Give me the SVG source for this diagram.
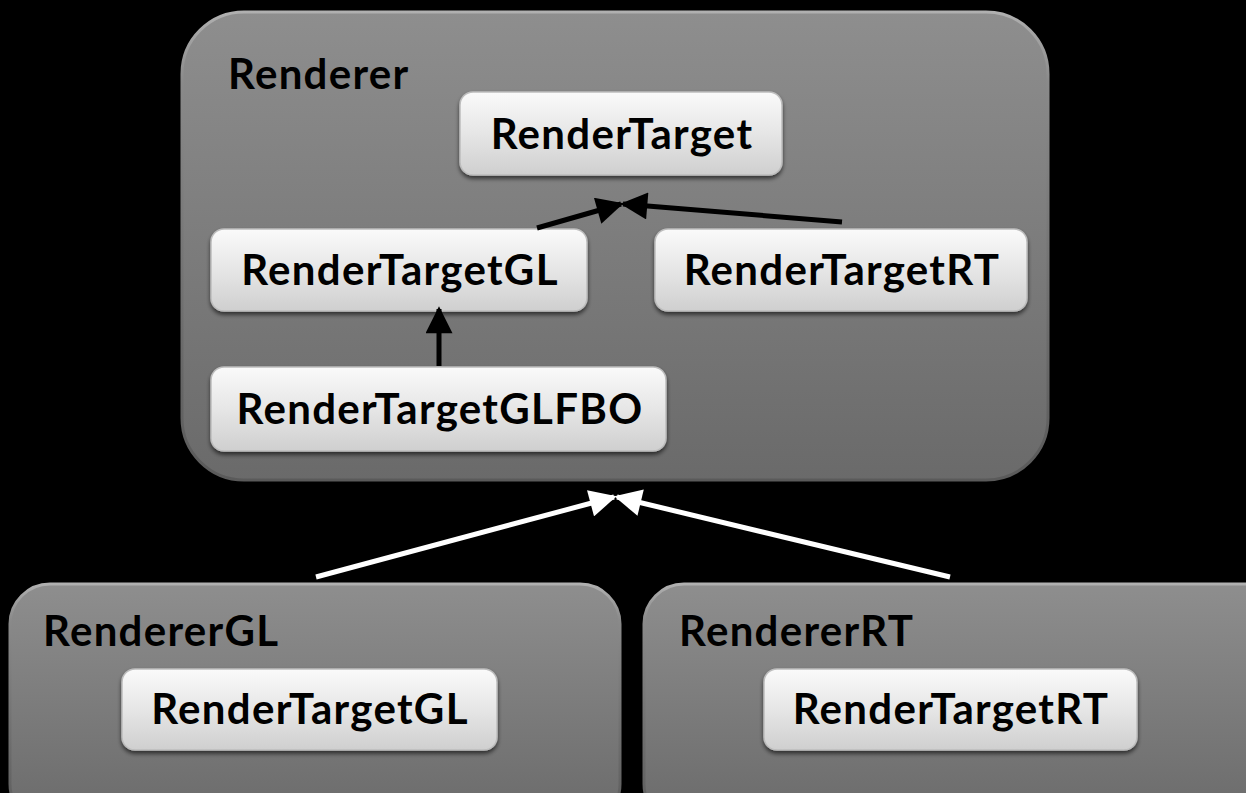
<svg xmlns="http://www.w3.org/2000/svg" width="1246" height="793" viewBox="0 0 1246 793">
<defs>
<linearGradient id="gc" x1="0" y1="0" x2="0" y2="1">
<stop offset="0" stop-color="#8e8e8e"/>
<stop offset="1" stop-color="#6a6a6a"/>
</linearGradient>
<linearGradient id="gcs" x1="0" y1="0" x2="0" y2="1">
<stop offset="0" stop-color="#b0b0b0"/>
<stop offset="0.15" stop-color="#8a8a8a"/>
<stop offset="1" stop-color="#5a5a5a"/>
</linearGradient>
<linearGradient id="gb" x1="0" y1="0" x2="0" y2="1">
<stop offset="0" stop-color="#fafafa"/>
<stop offset="0.5" stop-color="#e6e6e6"/>
<stop offset="1" stop-color="#cfcfcf"/>
</linearGradient>
<filter id="sh" x="-10%" y="-20%" width="120%" height="150%">
<feGaussianBlur in="SourceAlpha" stdDeviation="2"/>
<feOffset dx="0" dy="3" result="b"/>
<feComponentTransfer><feFuncA type="linear" slope="0.6"/></feComponentTransfer>
<feMerge><feMergeNode/><feMergeNode in="SourceGraphic"/></feMerge>
</filter>
<marker id="ab" viewBox="0 0 10 10" refX="9" refY="5" markerWidth="5.8" markerHeight="5.4" orient="auto" markerUnits="strokeWidth">
<path d="M0,0 L10,5 L0,10 z" fill="#000"/>
</marker>
<marker id="aw" viewBox="0 0 10 10" refX="9" refY="5" markerWidth="5.8" markerHeight="5.4" orient="auto" markerUnits="strokeWidth">
<path d="M0,0 L10,5 L0,10 z" fill="#fff"/>
</marker>
</defs>
<style>
.cont{fill:url(#gc);stroke:url(#gcs);stroke-width:3}
.box{fill:url(#gb);stroke:#bdbdbd;stroke-width:1.5;filter:url(#sh)}
.t{font-family:Lato,"Open Sans","DejaVu Sans",sans-serif;font-weight:bold;font-size:42px;letter-spacing:1.3px;fill:#000}
.c{text-anchor:middle}
.ln{stroke-width:5;fill:none}
</style>
<rect width="1246" height="793" fill="#000"/>
<g id="renderer">
<rect class="cont" x="182" y="12" width="866" height="468" rx="62" ry="62"/>
<text class="t" x="228" y="89">Renderer</text>
</g>
<g id="renderTarget">
<rect class="box" x="460" y="92" width="322" height="83" rx="13"/>
<text class="t c" x="622" y="149">RenderTarget</text>
</g>
<g id="renderTargetGL">
<rect class="box" x="211" y="229" width="376" height="82" rx="13"/>
<text class="t c" x="400" y="285">RenderTargetGL</text>
</g>
<g id="renderTargetRT">
<rect class="box" x="655" y="229" width="372" height="82" rx="13"/>
<text class="t c" x="842" y="285">RenderTargetRT</text>
</g>
<g id="renderTargetGLFBO">
<rect class="box" x="211" y="367" width="455" height="84" rx="13"/>
<text class="t c" x="440" y="424">RenderTargetGLFBO</text>
</g>
<g id="rendererGL">
<rect class="cont" x="10" y="584" width="610" height="240" rx="40" ry="40"/>
<text class="t" x="43" y="646">RendererGL</text>
<rect class="box" x="122" y="669" width="375" height="81" rx="13"/>
<text class="t c" x="310" y="724">RenderTargetGL</text>
</g>
<g id="rendererRT">
<rect class="cont" x="644" y="584" width="640" height="240" rx="40" ry="40"/>
<text class="t" x="679" y="646">RendererRT</text>
<rect class="box" x="764" y="669" width="373" height="81" rx="13"/>
<text class="t c" x="951" y="724">RenderTargetRT</text>
</g>
<g id="connectors">
<line class="ln" x1="537" y1="228" x2="621" y2="204" stroke="#000" marker-end="url(#ab)"/>
<line class="ln" x1="842" y1="222" x2="623" y2="204" stroke="#000" marker-end="url(#ab)"/>
<line class="ln" x1="439" y1="366" x2="439" y2="309" stroke="#000" marker-end="url(#ab)"/>
<line class="ln" x1="316" y1="577" x2="614" y2="497" stroke="#fff" marker-end="url(#aw)"/>
<line class="ln" x1="950" y1="577" x2="617" y2="497" stroke="#fff" marker-end="url(#aw)"/>
</g>
</svg>
